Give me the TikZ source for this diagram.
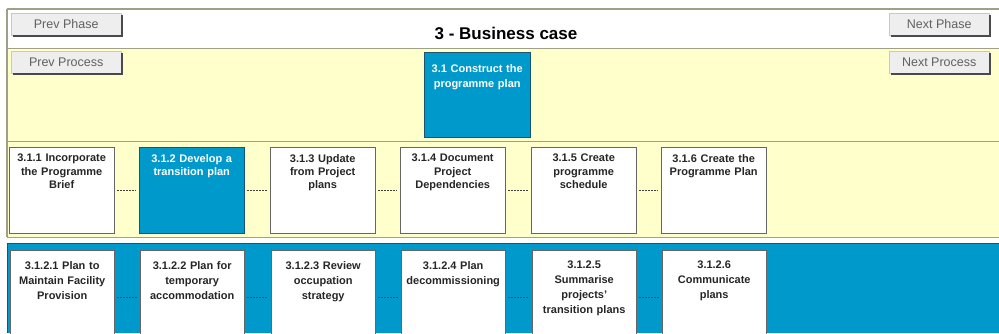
\documentclass[tikz,border=0pt]{standalone}
\usepackage{fontspec}
\setmainfont{Liberation Sans}
\usetikzlibrary{positioning}
\definecolor{paleyellow}{HTML}{FFFFCC}
\definecolor{bandline}{HTML}{A0A088}
\definecolor{cyanblue}{HTML}{0099CC}
\definecolor{darkblue}{HTML}{1A5570}
\definecolor{boxline}{HTML}{666666}
\definecolor{linkgray}{HTML}{404038}
\definecolor{boxtext}{HTML}{262626}
\definecolor{btnfill}{HTML}{EEEEEE}
\definecolor{btnedge}{HTML}{C8C8C8}
\definecolor{btnshadow}{HTML}{4A4A4A}
\definecolor{btntext}{HTML}{606060}
\tikzset{
    btn/.style={draw=btnedge, fill=btnfill, text=btntext, minimum height=22pt, inner sep=0pt, anchor=north west, font=\fontsize{12.5}{14}\selectfont},
    stepbox/.style={draw=boxline, fill=white, minimum width=105pt, minimum height=86pt, inner sep=0pt, anchor=north west},
    activebox/.style={stepbox, draw=darkblue, fill=cyanblue},
    subbox/.style={stepbox, minimum width=104pt, minimum height=94pt},
    steptext/.style={align=center, text width=104pt, inner sep=0pt, anchor=north, yshift=-7pt, text=boxtext, font=\fontsize{11}{13.3}\selectfont\bfseries},
    activetext/.style={steptext, text=white},
    subtext/.style={steptext, yshift=-4pt, font=\fontsize{11}{15}\selectfont\bfseries},
    link/.style={dash pattern=on 2pt off 1pt, line width=1.2pt, shorten >=3pt, shorten <=3pt},
}
\begin{document}
\begin{tikzpicture}[x=1pt, y=1pt]
    \useasboundingbox (0,0) rectangle (999,333);
    % Bands
    \fill[paleyellow] (7,285) rectangle (999,96);
    \fill[cyanblue] (7,90) rectangle (999,0);
    \draw[bandline, line width=1.5pt] (7,324) -- (999,324);
    \draw[bandline] (7,285) -- (999,285);
    \draw[bandline] (7,192) -- (999,192);
    \draw[bandline] (7,96) -- (999,96);
    \draw[bandline, line width=1.5pt] (7,324) -- (7,96);
    \draw[darkblue] (999,90) -- (7,90) -- (7,0);

    % Title and buttons
    \node[font=\fontsize{17}{20}\selectfont\bfseries] (title) at (506,300) {3 - Business case};
    \node[btn, minimum width=110pt] (prevphase) at (11,320) {Prev Phase};
    \node[btn, minimum width=110pt] (prevproc) at (11,282) {Prev Process};
    \node[btn, minimum width=100pt] (nextphase) at (889,320) {Next Phase};
    \node[btn, minimum width=100pt] (nextproc) at (889,282) {Next Process};
    \foreach \b in {prevphase, prevproc, nextphase, nextproc}
        \draw[btnshadow, line width=2pt] ([shift={(1pt,-2pt)}]\b.north east) -- ([shift={(1pt,-1pt)}]\b.south east) -- ([shift={(2pt,-1pt)}]\b.south west);

    % Process
    \node[activebox, minimum width=106pt, minimum height=85pt,
          label={[activetext, yshift=-5pt, font=\fontsize{11}{15}\selectfont\bfseries]north:3.1 Construct the\\programme plan}] (p31) at (424,281) {};

    % Steps
    \node[stepbox, label={[steptext]north:3.1.1 Incorporate\\the Programme\\Brief}] (s311) at (9,186) {};
    \node[activebox, label={[activetext]north:3.1.2 Develop a\\transition plan}] (s312) at (139,186) {};
    \node[stepbox, label={[steptext]north:3.1.3 Update\\from Project\\plans}] (s313) at (270,186) {};
    \node[stepbox, label={[steptext]north:3.1.4 Document\\Project\\Dependencies}] (s314) at (400,186) {};
    \node[stepbox, label={[steptext]north:3.1.5 Create\\programme\\schedule}] (s315) at (531,186) {};
    \node[stepbox, label={[steptext]north:3.1.6 Create the\\Programme Plan}] (s316) at (661,186) {};
    \draw[link, linkgray] (s311) -- (s312);
    \draw[link, linkgray] (s312) -- (s313);
    \draw[link, linkgray] (s313) -- (s314);
    \draw[link, linkgray] (s314) -- (s315);
    \draw[link, linkgray] (s315) -- (s316);

    % Sub-steps
    \node[subbox, label={[subtext]north:3.1.2.1 Plan to\\Maintain Facility\\Provision}] (t3121) at (10,83) {};
    \node[subbox, label={[subtext]north:3.1.2.2 Plan for\\temporary\\accommodation}] (t3122) at (140,83) {};
    \node[subbox, label={[subtext]north:3.1.2.3 Review\\occupation\\strategy}] (t3123) at (271,83) {};
    \node[subbox, label={[subtext]north:3.1.2.4 Plan\\decommissioning}] (t3124) at (401,83) {};
    \node[subbox, label={[subtext]north:3.1.2.5\\Summarise\\projects'\\transition plans}] (t3125) at (532,83) {};
    \node[subbox, label={[subtext]north:3.1.2.6\\Communicate\\plans}] (t3126) at (662,83) {};
    \draw[link, darkblue] (t3121) -- (t3122);
    \draw[link, darkblue] (t3122) -- (t3123);
    \draw[link, darkblue] (t3123) -- (t3124);
    \draw[link, darkblue] (t3124) -- (t3125);
    \draw[link, darkblue] (t3125) -- (t3126);
\end{tikzpicture}
\end{document}
